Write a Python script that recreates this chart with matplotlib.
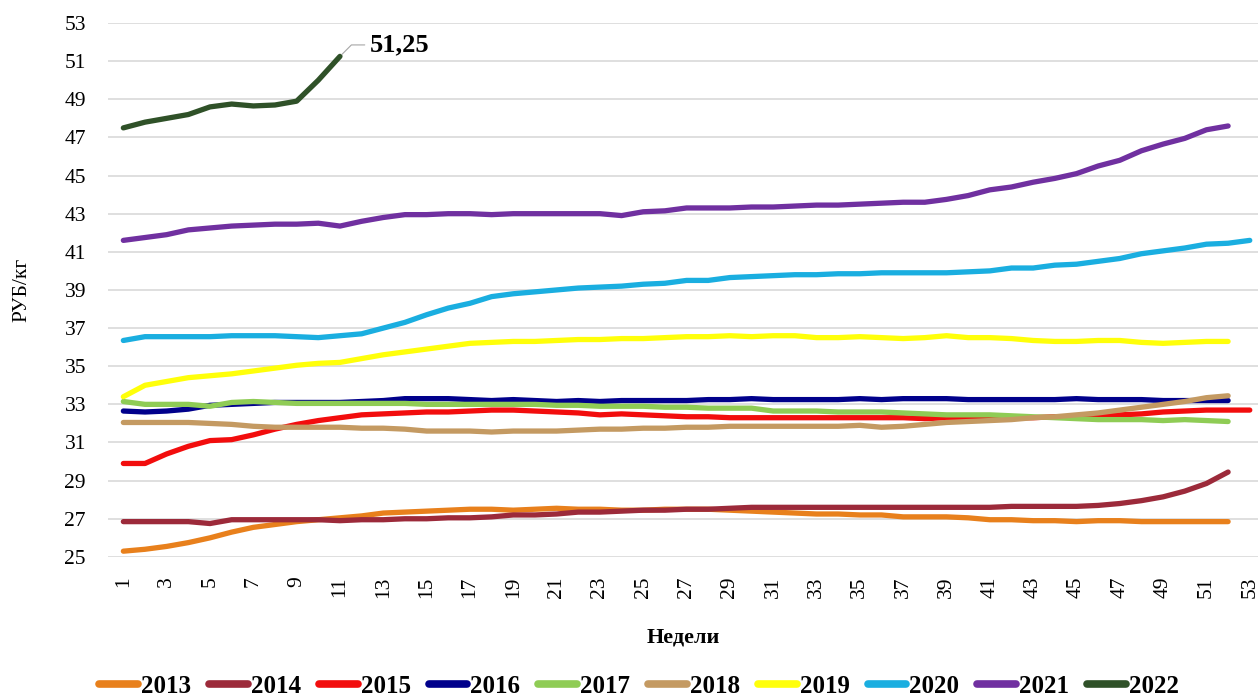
import numpy as np
import matplotlib
matplotlib.use("Agg")
import matplotlib.pyplot as plt

plt.rcParams['font.family'] = ['Liberation Serif', 'DejaVu Serif']

y2013 = [25.3, 25.4, 25.55, 25.75, 26.0, 26.3, 26.55, 26.7, 26.85, 26.95, 27.05, 27.15, 27.3,
         27.35, 27.4, 27.45, 27.5, 27.5, 27.45, 27.5, 27.55, 27.5, 27.5, 27.45, 27.45, 27.5,
         27.5, 27.5, 27.45, 27.4, 27.35, 27.3, 27.25, 27.25, 27.2, 27.2, 27.1, 27.1, 27.1,
         27.05, 26.95, 26.95, 26.9, 26.9, 26.85, 26.9, 26.9, 26.85, 26.85, 26.85, 26.85, 26.85]
y2014 = [26.85, 26.85, 26.85, 26.85, 26.75, 26.95, 26.95, 26.95, 26.95, 26.95, 26.9, 26.95,
         26.95, 27.0, 27.0, 27.05, 27.05, 27.1, 27.2, 27.2, 27.25, 27.35, 27.35, 27.4, 27.45,
         27.45, 27.5, 27.5, 27.55, 27.6, 27.6, 27.6, 27.6, 27.6, 27.6, 27.6, 27.6, 27.6, 27.6,
         27.6, 27.6, 27.65, 27.65, 27.65, 27.65, 27.7, 27.8, 27.95, 28.15, 28.45, 28.85, 29.45]
y2015 = [29.9, 29.9, 30.4, 30.8, 31.1, 31.15, 31.4, 31.7, 31.95, 32.15, 32.3, 32.45, 32.5,
         32.55, 32.6, 32.6, 32.65, 32.7, 32.7, 32.65, 32.6, 32.55, 32.45, 32.5, 32.45, 32.4,
         32.35, 32.35, 32.3, 32.3, 32.3, 32.3, 32.3, 32.3, 32.3, 32.3, 32.3, 32.25, 32.3, 32.3,
         32.3, 32.3, 32.3, 32.35, 32.35, 32.4, 32.45, 32.5, 32.6, 32.65, 32.7, 32.7, 32.7]
y2016 = [32.65, 32.6, 32.65, 32.75, 32.95, 33.0, 33.05, 33.1, 33.1, 33.1, 33.1, 33.15, 33.2,
         33.3, 33.3, 33.3, 33.25, 33.2, 33.25, 33.2, 33.15, 33.2, 33.15, 33.2, 33.2, 33.2,
         33.2, 33.25, 33.25, 33.3, 33.25, 33.25, 33.25, 33.25, 33.3, 33.25, 33.3, 33.3, 33.3,
         33.25, 33.25, 33.25, 33.25, 33.25, 33.3, 33.25, 33.25, 33.25, 33.2, 33.2, 33.2, 33.2]
y2017 = [33.15, 33.0, 33.0, 33.0, 32.9, 33.1, 33.15, 33.1, 33.05, 33.05, 33.05, 33.05, 33.05,
         33.05, 33.0, 33.0, 33.0, 33.0, 33.0, 33.0, 32.95, 32.95, 32.9, 32.9, 32.9, 32.85,
         32.85, 32.8, 32.8, 32.8, 32.65, 32.65, 32.65, 32.6, 32.6, 32.6, 32.55, 32.5, 32.45,
         32.45, 32.45, 32.4, 32.35, 32.3, 32.25, 32.2, 32.2, 32.2, 32.15, 32.2, 32.15, 32.1]
y2018 = [32.05, 32.05, 32.05, 32.05, 32.0, 31.95, 31.85, 31.8, 31.8, 31.8, 31.8, 31.75, 31.75,
         31.7, 31.6, 31.6, 31.6, 31.55, 31.6, 31.6, 31.6, 31.65, 31.7, 31.7, 31.75, 31.75,
         31.8, 31.8, 31.85, 31.85, 31.85, 31.85, 31.85, 31.85, 31.9, 31.8, 31.85, 31.95, 32.05,
         32.1, 32.15, 32.2, 32.3, 32.35, 32.45, 32.55, 32.7, 32.85, 33.0, 33.15, 33.35, 33.45]
y2019 = [33.4, 34.0, 34.2, 34.4, 34.5, 34.6, 34.75, 34.9, 35.05, 35.15, 35.2, 35.4, 35.6,
         35.75, 35.9, 36.05, 36.2, 36.25, 36.3, 36.3, 36.35, 36.4, 36.4, 36.45, 36.45, 36.5,
         36.55, 36.55, 36.6, 36.55, 36.6, 36.6, 36.5, 36.5, 36.55, 36.5, 36.45, 36.5, 36.6,
         36.5, 36.5, 36.45, 36.35, 36.3, 36.3, 36.35, 36.35, 36.25, 36.2, 36.25, 36.3, 36.3]
y2020 = [36.35, 36.55, 36.55, 36.55, 36.55, 36.6, 36.6, 36.6, 36.55, 36.5, 36.6, 36.7, 37.0,
         37.3, 37.7, 38.05, 38.3, 38.65, 38.8, 38.9, 39.0, 39.1, 39.15, 39.2, 39.3, 39.35,
         39.5, 39.5, 39.65, 39.7, 39.75, 39.8, 39.8, 39.85, 39.85, 39.9, 39.9, 39.9, 39.9,
         39.95, 40.0, 40.15, 40.15, 40.3, 40.35, 40.5, 40.65, 40.9, 41.05, 41.2, 41.4, 41.45, 41.6]
y2021 = [41.6, 41.75, 41.9, 42.15, 42.25, 42.35, 42.4, 42.45, 42.45, 42.5, 42.35, 42.6, 42.8,
         42.95, 42.95, 43.0, 43.0, 42.95, 43.0, 43.0, 43.0, 43.0, 43.0, 42.9, 43.1, 43.15,
         43.3, 43.3, 43.3, 43.35, 43.35, 43.4, 43.45, 43.45, 43.5, 43.55, 43.6, 43.6, 43.75,
         43.95, 44.25, 44.4, 44.65, 44.85, 45.1, 45.5, 45.8, 46.3, 46.65, 46.95, 47.4, 47.6]
y2022 = [47.5, 47.8, 48.0, 48.2, 48.6, 48.75, 48.65, 48.7, 48.9, 50.0, 51.25]

series = [
    ("2013", y2013, "#e8801c"),
    ("2014", y2014, "#9c2a3a"),
    ("2015", y2015, "#f20d0d"),
    ("2016", y2016, "#00008b"),
    ("2017", y2017, "#8fcc55"),
    ("2018", y2018, "#c49a62"),
    ("2019", y2019, "#ffff0a"),
    ("2020", y2020, "#1aaee0"),
    ("2021", y2021, "#7030a0"),
    ("2022", y2022, "#2f5128"),
]

fig = plt.figure(figsize=(12.58, 6.97), dpi=100)
ax = fig.add_axes([0.086, 0.201, 0.914, 0.766])

for name, vals, col in series:
    x = list(range(1, len(vals) + 1))
    ax.plot(x, vals, color=col, lw=3.8, label=name, solid_capstyle='round')

ax.set_xlim(0.3, 53.38)
ax.set_ylim(25, 53)
ax.set_yticks(np.arange(25, 54, 2))
ax.set_xticks(np.arange(1, 54, 2))
ax.tick_params(axis='x', labelrotation=90, length=0, labelsize=15.5, pad=14)
ax.tick_params(axis='y', length=0, labelsize=15.5, pad=16)
ax.grid(axis='y', color='#d9d9d9', lw=1.2)
ax.set_axisbelow(True)
for s in ax.spines.values():
    s.set_visible(False)

ax.set_xlabel("Недели", fontsize=16, fontweight='bold', labelpad=21)
ax.set_ylabel("РУБ/кг", fontsize=15.5, labelpad=24)

# label on last 2022 point
ax.annotate("51,25", xy=(11, y2022[-1]), xytext=(12.4, 51.85),
            fontsize=19, fontweight='bold', va='center', ha='left',
            arrowprops=dict(arrowstyle='-', color='#a6a6a6', lw=0.8,
                            connectionstyle='angle,angleA=0,angleB=45,rad=0'))

leg = fig.legend(loc='lower center', ncol=10, bbox_to_anchor=(0.508, -0.034), frameon=False,
                 prop={'size': 18, 'weight': 'bold'}, handlelength=1.55, handletextpad=0.12,
                 columnspacing=0.72)
for h in leg.get_lines():
    h.set_linewidth(5.5)

fig.savefig("out.png", dpi=100)
